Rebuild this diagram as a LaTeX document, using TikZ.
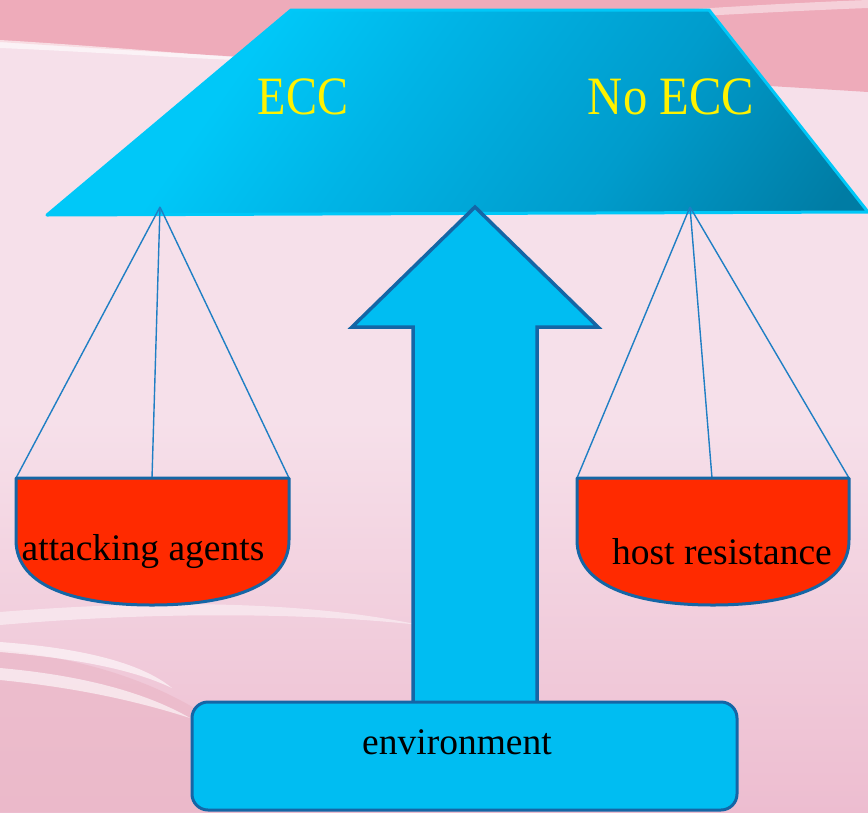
\documentclass[tikz,border=0pt]{standalone}
\usepackage{fontspec}
\setmainfont{Liberation Serif}
\definecolor{bgpink}{HTML}{F6E0EA}
\definecolor{toppink}{HTML}{EEABBA}
\definecolor{lowpink}{HTML}{EDBDD0}
\definecolor{swoopink}{HTML}{EBB8C8}
\definecolor{cyanA}{HTML}{00C8F8}
\definecolor{cyanM}{HTML}{00B4E6}
\definecolor{cyanD}{HTML}{009CCC}
\definecolor{cyanB}{HTML}{007CA4}
\definecolor{cyanF}{HTML}{00BDF2}
\definecolor{darkblue}{HTML}{1466A6}
\definecolor{stringblue}{HTML}{1F7FC4}
\definecolor{panred}{HTML}{FF2A00}
\pgfdeclareverticalshading{beamshade}{100bp}{color(0bp)=(cyanB); color(18bp)=(cyanB); color(36bp)=(cyanD); color(55bp)=(cyanM); color(68bp)=(cyanA); color(100bp)=(cyanA)}
\tikzset{
  string/.style={stringblue, line width=1.4pt},
  pan/.style={fill=panred, draw=darkblue, line width=3pt, line join=round},
  bluebody/.style={fill=cyanF, draw=darkblue, line width=3.5pt, line join=miter},
  lbl/.style={font=\fontsize{37.5}{40}\selectfont, text=black, inner sep=0pt},
  ecc/.style={font=\fontsize{54}{56}\selectfont, text=yellow, inner sep=0pt}
}
\begin{document}
\begin{tikzpicture}[x=1pt,y=-1pt]
\useasboundingbox (0,0) rectangle (868,812);
% background
\fill[bgpink] (0,0) rectangle (868,812);
\shade[top color=bgpink, bottom color=lowpink] (0,420) rectangle (868,812);
\fill[toppink] (0,0) -- (868,0) -- (868,92) .. controls (600,75) and (300,62) .. (0,42) -- cycle;
\fill[white, opacity=0.6] (0,40) .. controls (100,46) and (200,55) .. (300,62) .. controls (200,60) and (100,52) .. (0,48) -- cycle;
\fill[white, opacity=0.45] (430,30) .. controls (600,14) and (760,4) .. (868,0) -- (868,8) .. controls (760,12) and (600,22) .. (430,30) -- cycle;
% bottom-left swoosh
\fill[swoopink, opacity=0.7] (0,650) .. controls (100,660) and (180,690) .. (240,740) -- (240,812) -- (0,812) -- cycle;
\fill[white, opacity=0.45] (0,612) .. controls (150,600) and (300,600) .. (420,625) .. controls (300,612) and (150,612) .. (0,625) -- cycle;
\fill[white, opacity=0.6] (0,642) .. controls (80,648) and (140,662) .. (172,688) .. controls (130,668) and (70,658) .. (0,652) -- cycle;
\fill[white, opacity=0.6] (0,668) .. controls (90,676) and (150,695) .. (190,718) .. controls (140,702) and (80,688) .. (0,680) -- cycle;

% beam (trapezoid)
\shade[shading=beamshade, shading angle=55, draw=cyanA, line width=3pt, line join=round]
  (291,10) -- (709,10) -- (868,212) -- (47,215) -- cycle;
\node[ecc] (ecc) at (303,97) {\scalebox{0.86}[1]{ECC}};
\node[ecc] (noecc) at (671,97) {\scalebox{0.9}[1]{No ECC}};

% pivots and pan corners
\coordinate (pl) at (160,207);
\coordinate (pr) at (690,207);
\coordinate (l1) at (16,478);
\coordinate (l2) at (152,478);
\coordinate (l3) at (289,478);
\coordinate (r1) at (577,478);
\coordinate (r2) at (712,478);
\coordinate (r3) at (849,478);

\draw[string] (pl) -- (l1);
\draw[string] (pl) -- (l2);
\draw[string] (pl) -- (l3);
\draw[string] (pr) -- (r1);
\draw[string] (pr) -- (r2);
\draw[string] (pr) -- (r3);

% pans
\draw[pan] (l1) -- (l3) -- (289,540) .. controls (289,588) and (225,605) .. (152,605)
  .. controls (79,605) and (16,588) .. (16,540) -- cycle;
\draw[pan] (r1) -- (r3) -- (849,540) .. controls (849,588) and (785,605) .. (713,605)
  .. controls (641,605) and (577,588) .. (577,540) -- cycle;
\node[lbl] (att) at (143,552) {attacking agents};
\node[lbl] (host) at (722,552) {host resistance};

% arrow
\draw[bluebody] (475,207) -- (598,327) -- (537,327) -- (537,712) -- (413,712) -- (413,327) -- (352,327) -- cycle;

% environment box
\draw[fill=cyanF, draw=darkblue, line width=3pt, rounded corners=16pt] (192,702) rectangle (737,810);
\node[lbl] (env) at (457,742) {environment};
\end{tikzpicture}
\end{document}
